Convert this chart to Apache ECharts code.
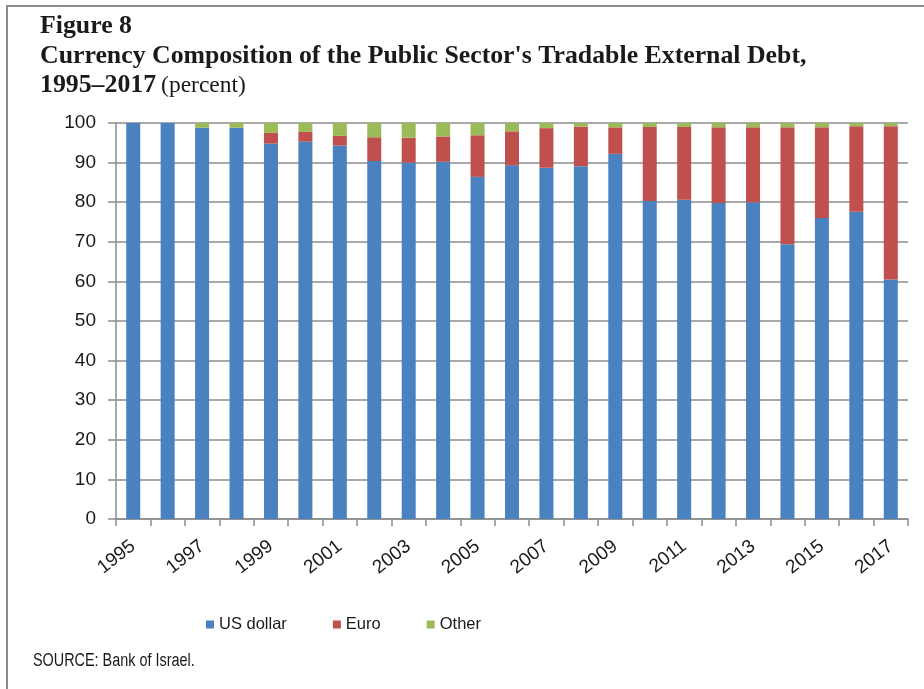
<!DOCTYPE html>
<html>
<head>
<meta charset="utf-8">
<script src="https://cdn.jsdelivr.net/npm/echarts@6/dist/echarts.min.js"></script>
<style>
html,body{margin:0;padding:0;background:#fff;}
#chart{width:924px;height:689px;}
</style>
</head>
<body>
<div id="chart"></div>
<script>
const years = ['1995','1996','1997','1998','1999','2000','2001','2002','2003','2004','2005','2006','2007','2008','2009','2010','2011','2012','2013','2014','2015','2016','2017'];
const usDollar = [100, 100, 98.8, 98.8, 94.8, 95.3, 94.3, 90.4, 90.0, 90.2, 86.4, 89.3, 88.7, 89.1, 92.2, 80.3, 80.6, 79.8, 80.0, 69.4, 76.0, 77.6, 60.5];
const euro = [0, 0, 0, 0, 2.7, 2.45, 2.45, 6.0, 6.3, 6.4, 10.5, 8.6, 10.0, 10.0, 6.7, 18.7, 18.4, 19.1, 18.9, 29.5, 22.9, 21.6, 38.7];
const other = [0, 0, 1.2, 1.2, 2.5, 2.25, 3.25, 3.6, 3.7, 3.4, 3.1, 2.1, 1.3, 0.9, 1.1, 1.0, 1.0, 1.1, 1.1, 1.1, 1.1, 0.8, 0.8];
const yTicks = [0, 10, 20, 30, 40, 50, 60, 70, 80, 90, 100];

const sans = "'Liberation Sans', Arial, sans-serif";
const serif = "'Liberation Serif', 'Times New Roman', serif";
const chart = echarts.init(document.getElementById('chart'), null, {renderer: 'canvas'});
chart.setOption({
  animation: false,
  backgroundColor: '#fff',
  title: {
    left: 35, top: 7,
    text: "{b|Figure 8}\n{b|Currency Composition of the Public Sector's Tradable External Debt,}\n{b|1995–2017} {n|(percent)}",
    textStyle: {
      rich: {
        b: {fontFamily: serif, fontWeight: 'bold', fontSize: 25.8, lineHeight: 29.5, color: '#1a1a1a'},
        n: {fontFamily: serif, fontWeight: 'normal', fontSize: 23.5, lineHeight: 29.5, color: '#1a1a1a'}
      }
    }
  },
  graphic: [
    {type: 'rect', shape: {x: 7, y: 6, width: 1000, height: 1000}, style: {fill: 'none', stroke: '#8a8a8a', lineWidth: 2}, silent: true},
    {type: 'text', x: 33, y: 652, scaleX: 0.8, style: {x: 0, y: 0, text: 'SOURCE: Bank of Israel.', font: "18px 'Liberation Sans', Arial, sans-serif", fill: '#1a1a1a'}}
  ],
  legend: {
    left: 201, top: 611,
    itemWidth: 8, itemHeight: 8, itemGap: 46,
    icon: 'rect',
    textStyle: {fontFamily: sans, fontSize: 16.5, color: '#1a1a1a'},
    data: ['US dollar', 'Euro', 'Other']
  },
  grid: {left: 116, right: 16, top: 123, bottom: 170, containLabel: false},
  xAxis: {
    type: 'category',
    data: years,
    axisLine: {lineStyle: {color: '#8c8c8c', width: 1.5}},
    axisTick: {show: true, interval: 0, length: 7, lineStyle: {color: '#8c8c8c', width: 1.5}},
    axisLabel: {interval: 1, rotate: 38, margin: 25, fontFamily: sans, fontSize: 19, color: '#1a1a1a'}
  },
  yAxis: {
    type: 'value', min: yTicks[0], max: yTicks[yTicks.length-1], interval: 10,
    axisLine: {show: true, lineStyle: {color: '#8c8c8c', width: 1.5}},
    axisTick: {show: true, length: 8, lineStyle: {color: '#8c8c8c', width: 1.5}},
    splitLine: {lineStyle: {color: '#8c8c8c', width: 1.5}},
    axisLabel: {margin: 20, fontFamily: sans, fontSize: 19, color: '#1a1a1a'}
  },
  series: [
    {name: 'US dollar', type: 'bar', stack: 'a', data: usDollar, barWidth: 14, itemStyle: {color: '#4a81bf'}},
    {name: 'Euro', type: 'bar', stack: 'a', data: euro, barWidth: 14, itemStyle: {color: '#c0504d'}},
    {name: 'Other', type: 'bar', stack: 'a', data: other, barWidth: 14, itemStyle: {color: '#9bbb59'}}
  ]
});
</script>
</body>
</html>
